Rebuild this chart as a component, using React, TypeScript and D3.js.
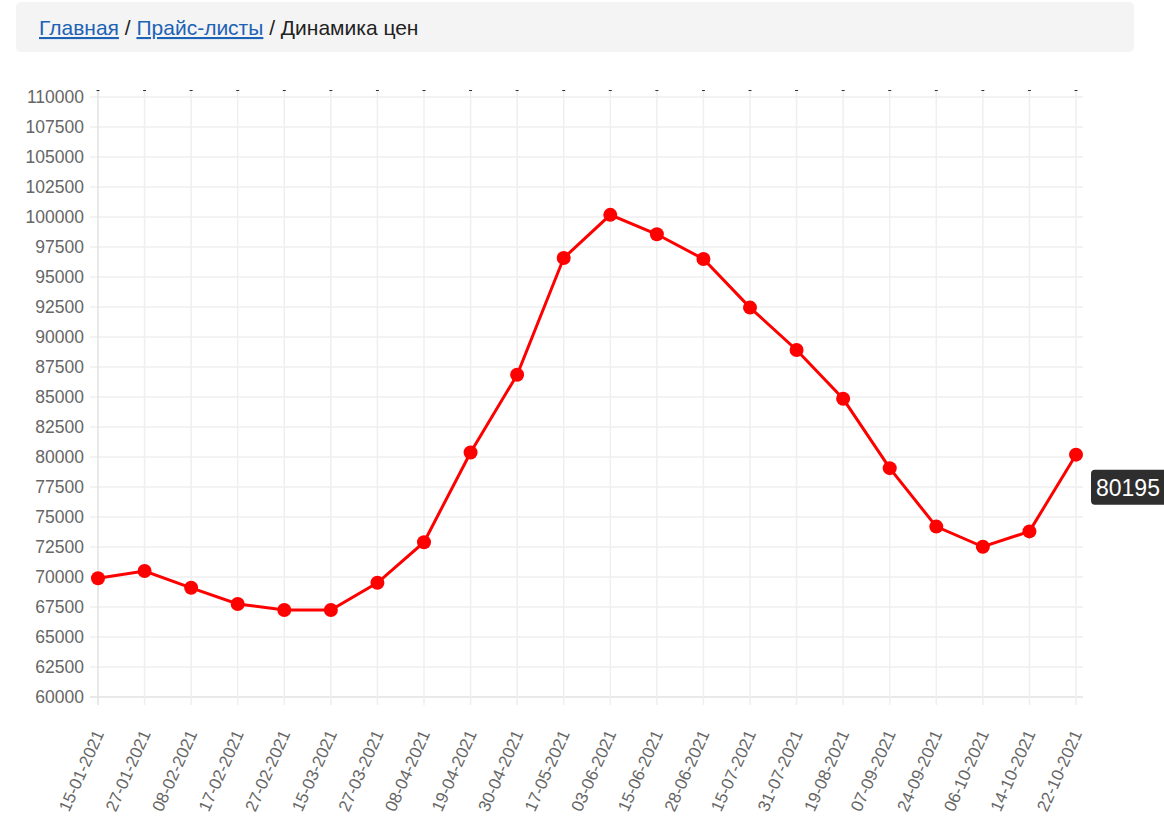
import React from "react";
import * as d3 from "d3";

const dates = [
  "15-01-2021", "27-01-2021", "08-02-2021", "17-02-2021", "27-02-2021", "15-03-2021",
  "27-03-2021", "08-04-2021", "19-04-2021", "30-04-2021", "17-05-2021", "03-06-2021",
  "15-06-2021", "28-06-2021", "15-07-2021", "31-07-2021", "19-08-2021", "07-09-2021",
  "24-09-2021", "06-10-2021", "14-10-2021", "22-10-2021",
];
const prices = [
  69900, 70500, 69100, 67750, 67250, 67250, 69520, 72900, 80380, 86850, 96580, 100180,
  98560, 96500, 92450, 88920, 84850, 79070, 74200, 72520, 73800, 80195,
];
const yTicks = d3.range(60000, 110001, 2500);
const tooltipValue = "80195";
const crumbs = ["Главная", "Прайс-листы", "Динамика цен"];

const W = 1164;
const H = 830;

export default function App() {
  const x = d3.scalePoint<string>().domain(dates).range([98, 1076]);
  const y = d3.scaleLinear().domain([60000, 110000]).range([697, 97]);
  const line = d3
    .line<number>()
    .x((_, i) => x(dates[i]) as number)
    .y((d) => y(d));
  const font = "'Liberation Sans', Arial, sans-serif";
  const lastX = x(dates[dates.length - 1]) as number;
  const tipY = y(80195);

  return (
    <svg
      width={W}
      height={H}
      style={{ position: "absolute", left: 0, top: 0, fontFamily: font }}
    >
      {/* breadcrumb */}
      <rect x={16} y={2} width={1118} height={50} rx={5} fill="#f4f4f4" />
      <text x={39} y={35} fontSize={21} fill="#222">
        <tspan fill="#1c62b5" textDecoration="underline">{crumbs[0]}</tspan>
        <tspan> / </tspan>
        <tspan fill="#1c62b5" textDecoration="underline">{crumbs[1]}</tspan>
        <tspan> / {crumbs[2]}</tspan>
      </text>

      {/* horizontal grid */}
      {yTicks.map((t) => (
        <g key={t}>
          <line
            x1={90}
            x2={1083}
            y1={y(t)}
            y2={y(t)}
            stroke={t === 60000 ? "#e2e2e2" : "#efefef"}
            strokeWidth={1.5}
          />
          <text
            x={84}
            y={y(t)}
            dy="0.35em"
            textAnchor="end"
            fontSize={17.5}
            fill="#666"
          >
            {t}
          </text>
        </g>
      ))}

      {/* vertical grid */}
      {dates.map((d, i) => (
        <g key={d}>
          <line
            x1={x(d)}
            x2={x(d)}
            y1={90}
            y2={705}
            stroke={i === 0 ? "#e2e2e2" : "#efefef"}
            strokeWidth={1.5}
          />
          <line x1={(x(d) as number) - 1.5} x2={(x(d) as number) + 1.5} y1={90.5} y2={90.5} stroke="#333" strokeWidth={1} />
          <text
            transform={`translate(${(x(d) as number) + 1},${731}) rotate(-66)`}
            textAnchor="end"
            dy="0.35em"
            fontSize={17}
            fill="#666"
          >
            {d}
          </text>
        </g>
      ))}

      {/* line */}
      <path d={line(prices) || ""} fill="none" stroke="#ff0000" strokeWidth={3} />
      {prices.map((p, i) => (
        <circle key={i} cx={x(dates[i])} cy={y(p)} r={7} fill="#ff0000" />
      ))}

      {/* tooltip */}
      <rect x={lastX + 15} y={tipY + 15} width={90} height={35} rx={4} fill="#2e2e2e" />
      <text x={lastX + 20} y={tipY + 41} fontSize={23} fill="#fff">
        {tooltipValue}
      </text>
    </svg>
  );
}
